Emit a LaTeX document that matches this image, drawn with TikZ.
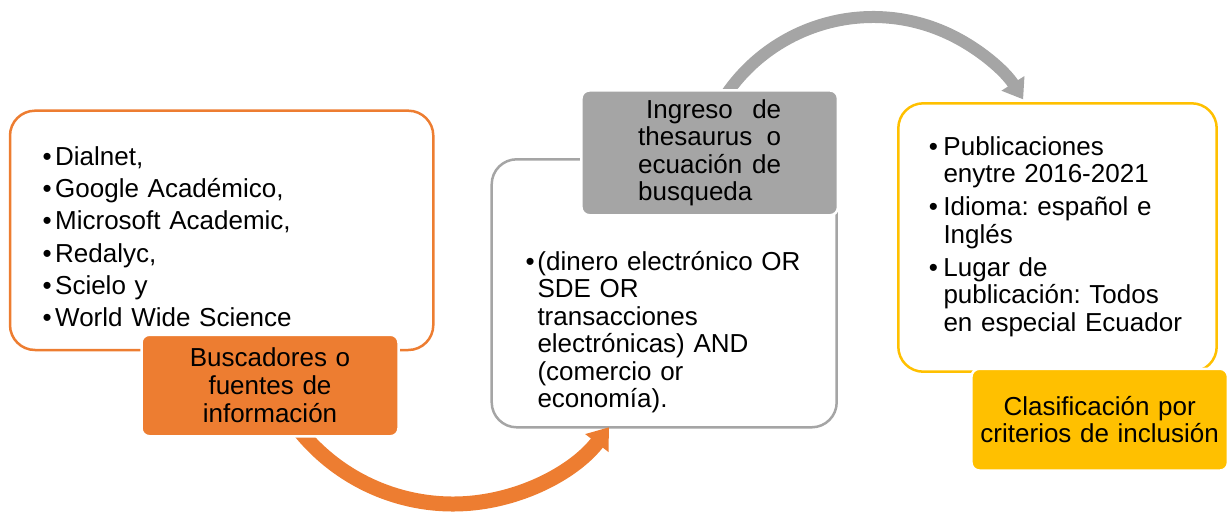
\documentclass[tikz,border=0pt]{standalone}
\usepackage{fontspec}
\setmainfont{Liberation Sans}
\usetikzlibrary{arrows.meta}
\definecolor{lorange}{HTML}{ED7D31}
\definecolor{lgray}{HTML}{A5A5A5}
\definecolor{lyellow}{HTML}{FFC000}
\newcommand\bt[1]{\leavevmode\llap{•\hspace{#1}}}
\newcommand\fs{\leavevmode\rule{0pt}{21pt}}
\frenchspacing
\begin{document}
\begin{tikzpicture}[x=1pt,y=-1pt,
  outbox/.style={draw, line width=2.5pt, rounded corners=25pt, inner sep=0pt},
  lab/.style={draw=white, line width=2.5pt, rounded corners=8pt, inner sep=0pt, align=center, text=black},
  list/.style={anchor=north west, inner sep=0pt, text width=300pt, align=left, text=black},
]
\useasboundingbox (0,0) rectangle (1227,512);

% outline boxes
\node[outbox, draw=lorange, minimum width=423.3pt, minimum height=239.3pt] (srcbox) at (221.65,230.35) {};
\node[outbox, draw=lgray, minimum width=345pt, minimum height=268pt] (qbox) at (664.2,293.3) {};
\node[outbox, draw=lyellow, minimum width=318.4pt, minimum height=268.4pt] (critbox) at (1057.5,237.5) {};

% curved arrows
\coordinate (oS) at (291.6,420);
\draw[lorange, line width=15pt, -{Triangle[length=20pt,width=28pt]}] (oS) arc[start angle=-145, end angle=-37.6, radius=197pt];
\coordinate (gS) at (711.7,119.8);
\draw[lgray, line width=12pt, -{Triangle[length=19pt,width=26pt]}] (gS) arc[start angle=155, end angle=32.5, radius=178pt];

% labels
\node[lab, fill=lorange, minimum width=257pt, minimum height=101.5pt, text width=220pt,
      font=\fontsize{26}{27.8}\selectfont] (srclab) at (270,385.5)
  {Buscadores o\\ fuentes de\\ información};
\node[lab, fill=lgray, minimum width=256.5pt, minimum height=124.8pt, text width=143pt, align=left,
      font=\fontsize{26}{27.2}\selectfont] (qlab) at (709.7,152.85)
  {\hspace*{8pt}Ingreso\hfill de\\ thesaurus\hfill o\\ ecuación\hfill de\\ busqueda};
\node[lab, fill=lyellow, minimum width=256.5pt, minimum height=101.8pt, text width=250pt,
      font=\fontsize{26}{26.7}\selectfont] (critlab) at (1099.7,419.65)
  {Clasificación por\\ criterios de inclusión};

% lists
\node[list, font=\fontsize{26}{32.3}\selectfont] (srclist) at (55,144)
  {\fs\bt{3.4pt}Dialnet,\\
   \bt{3.4pt}Google Académico,\\
   \bt{3.4pt}Microsoft Academic,\\
   \bt{3.4pt}Redalyc,\\
   \bt{3.4pt}Scielo y\\
   \bt{3.4pt}World Wide Science};
\node[list, font=\fontsize{26}{27.5}\selectfont] (qlist) at (537.3,249)
  {\fs\bt{2.8pt}(dinero electrónico OR\\
   SDE OR\\
   transacciones\\
   electrónicas) AND\\
   (comercio or\\
   economía).};
\node[list, font=\fontsize{26}{27.5}\selectfont] (critlist) at (943.3,134)
  {\fs\bt{5.5pt}Publicaciones\\
   enytre 2016-2021\\[5.5pt]
   \bt{5.5pt}Idioma: español e\\
   Inglés\\[5.5pt]
   \bt{5.5pt}Lugar de\\
   publicación: Todos\\
   en especial Ecuador};
\end{tikzpicture}
\end{document}
